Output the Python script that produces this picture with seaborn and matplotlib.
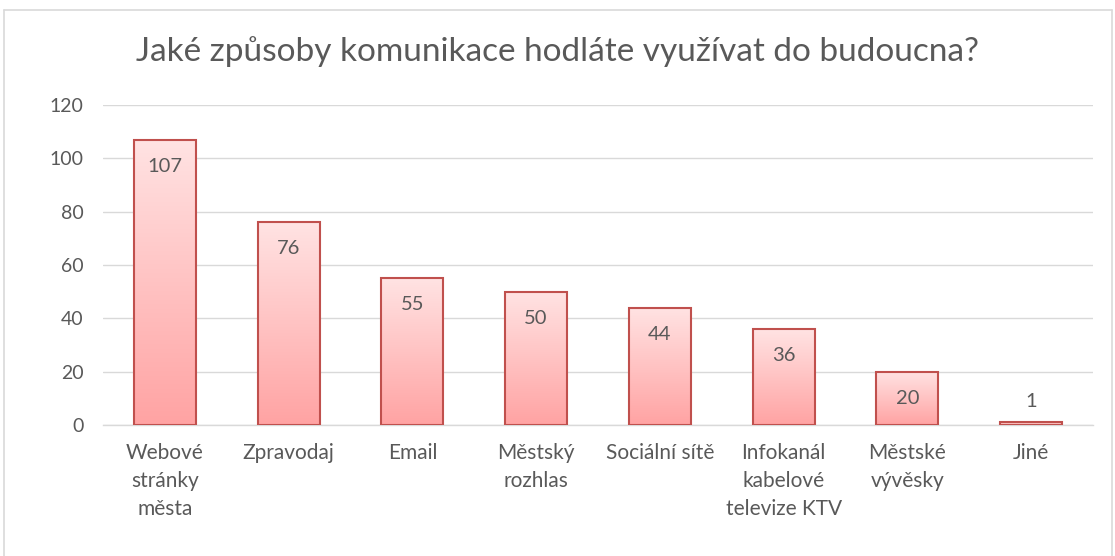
import numpy as np
import pandas as pd
import matplotlib
matplotlib.use("Agg")
import matplotlib.pyplot as plt
import seaborn as sns
from matplotlib.colors import LinearSegmentedColormap
from matplotlib.lines import Line2D

categories = ["Webové\nstránky\nměsta", "Zpravodaj", "Email", "Městský\nrozhlas",
              "Sociální sítě", "Infokanál\nkabelové\ntelevize KTV", "Městské\nvývěsky", "Jiné"]
values = [107, 76, 55, 50, 44, 36, 20, 1]
yticks = [0, 20, 40, 60, 80, 100, 120]
title = "Jaké způsoby komunikace hodláte využívat do budoucna?"

sns.set_theme(style="white")
plt.rcParams['font.family'] = ['Lato', 'DejaVu Sans']
txt = "#595959"

fig = plt.figure(figsize=(11.15, 5.56), dpi=100)
ax = fig.add_axes([103/1115, 1-425/556, (1093-103)/1115, 320/556])

df = pd.DataFrame({"cat": categories, "val": values})
sns.barplot(data=df, x="cat", y="val", ax=ax, width=0.5, color="#FFB3B3",
            edgecolor="#C0504D", linewidth=1.5, zorder=3)

cmap = LinearSegmentedColormap.from_list("g", ["#FFA3A3", "#FFE3E3"])
grad = np.linspace(0, 1, 256).reshape(-1, 1)
for p in ax.patches:
    x0, y0 = p.get_x(), p.get_y()
    w, h = p.get_width(), p.get_height()
    im = ax.imshow(grad, cmap=cmap, origin="lower", aspect="auto",
                   extent=[x0, x0 + w, y0, y0 + h], zorder=3.5)
    im.set_clip_path(p)
    p.set_facecolor("none")
    p.set_zorder(4)

for i, v in enumerate(values):
    off = -19 if v >= 10 else 15
    ax.annotate(str(v), (i, v), xytext=(0, off), textcoords="offset points",
                ha="center", va="center", fontsize=14.5, color=txt, zorder=5)

ax.set_xlim(-0.5, len(values) - 0.5)
ax.set_ylim(0, 120)
ax.set_yticks(yticks)
ax.set_yticklabels([str(t) for t in yticks], fontsize=14, color=txt)
ax.tick_params(axis="x", labelsize=15, labelcolor=txt, length=0, pad=13)
ax.tick_params(axis="y", length=0, pad=14)
for lbl in ax.get_xticklabels():
    lbl.set_linespacing(1.5)
    lbl.set_va("top")
ax.set_xlabel("")
ax.set_ylabel("")
ax.yaxis.grid(True, color="#D9D9D9", linewidth=1, zorder=0)
ax.set_axisbelow(True)
for s in ["top", "right", "left"]:
    ax.spines[s].set_visible(False)
ax.spines["bottom"].set_color("#D9D9D9")
ax.spines["bottom"].set_linewidth(1)

fig.text(0.5, 1 - 52/556, title, ha="center", va="center", fontsize=24, color=txt)

# outer chart frame
for xs, ys in [([4/1115, 4/1115], [0, 1-10/556]),
               ([4/1115, 1112/1115], [1-10/556, 1-10/556]),
               ([1112/1115, 1112/1115], [1-10/556, 0])]:
    fig.add_artist(Line2D(xs, ys, color="#D9D9D9", linewidth=1.2, transform=fig.transFigure))

fig.savefig("out.png", dpi=100)
